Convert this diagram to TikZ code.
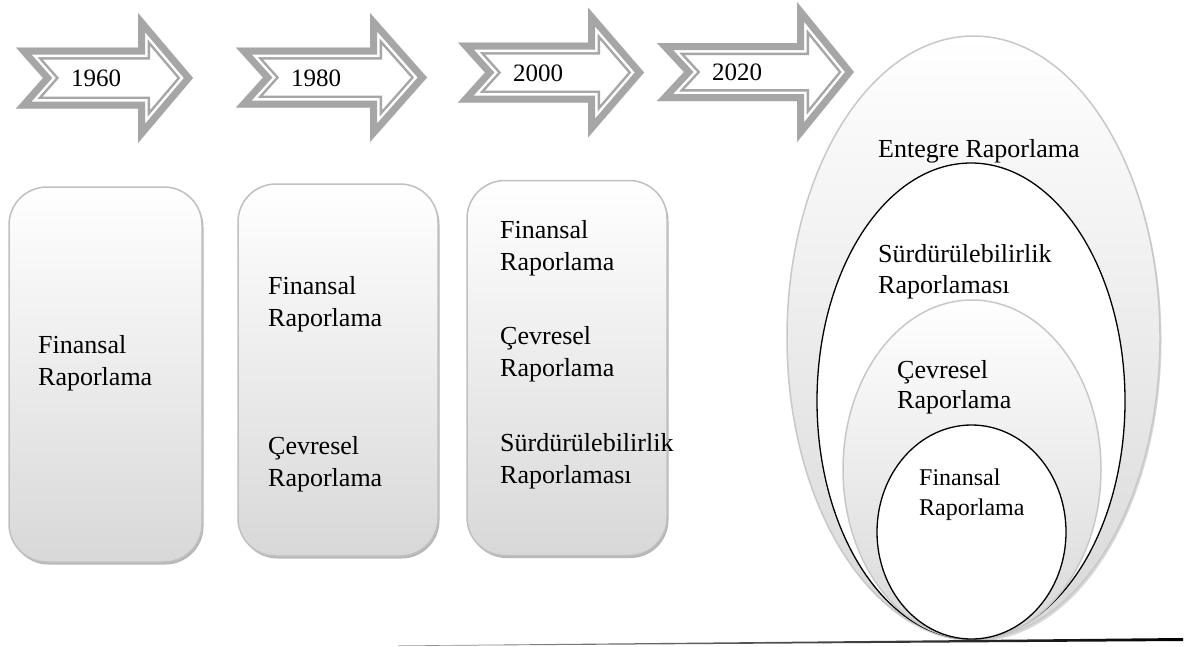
\documentclass[tikz,border=0pt]{standalone}
\usepackage{fontspec}
\setmainfont{Liberation Serif}
\usetikzlibrary{shapes.geometric,shadows}
\definecolor{arrgray}{RGB}{166,166,166}
\definecolor{boxedge}{RGB}{192,192,192}
\definecolor{boxbot}{RGB}{216,216,216}
\definecolor{ellgray}{RGB}{200,200,200}
\newcommand{\yeararrow}[8]{%
  \def\arrp{(#2,#5-#6) -- (#3,#5-#6) -- (#3,#5-#7) -- (#4,#5) -- (#3,#5+#7) -- (#3,#5+#6) -- (#2,#5+#6) -- (#2+27,#5) -- cycle}%
  \begin{scope}
    \clip \arrp;
    \fill[white] \arrp;
    \draw[arrgray, line width=24pt, line join=miter] \arrp;
    \draw[white, line width=19pt, line join=miter] \arrp;
    \draw[arrgray, line width=14pt, line join=miter] \arrp;
  \end{scope}
  \node[yeartext] (#1) at (#2+55,#5+8.5) {#8};
}
\begin{document}
\begin{tikzpicture}[x=1pt,y=-1pt,
  yeartext/.style={anchor=base west, inner sep=0pt, font=\fontsize{25}{30}\selectfont},
  txt/.style={anchor=base west, inner sep=0pt, font=\fontsize{26}{31}\selectfont},
  smalltxt/.style={anchor=base west, inner sep=0pt, font=\fontsize{24}{29}\selectfont},
  periodbox/.style={rectangle, rounded corners=38pt, draw=boxedge, line width=1.5pt,
    top color=white, bottom color=boxbot, inner sep=0pt,
    drop shadow={shadow xshift=1.5pt, shadow yshift=-2.5pt, fill=black!35, opacity=0.8}},
  grayell/.style={ellipse, inner sep=0pt, draw=ellgray, line width=1.5pt, top color=white, bottom color=boxbot},
  blackell/.style={ellipse, inner sep=0pt, draw=black, line width=1.3pt, fill=white}
]
\useasboundingbox (0,0) rectangle (1188,646);
\fill[white] (0,0) rectangle (1188,646);

% arrows
\yeararrow{y1960}{16}{138}{193}{78}{30.5}{65}{1960}
\yeararrow{y1980}{236}{370}{427}{77.5}{30}{64.5}{1980}
\yeararrow{y2000}{458}{588}{644}{72.5}{30}{65}{2000}
\yeararrow{y2020}{657}{797}{854}{72}{29}{70}{2020}

% period boxes
\node[periodbox, minimum width=193pt, minimum height=375pt] (box1) at (105.5,374.5) {};
\node[periodbox, minimum width=200pt, minimum height=372pt] (box2) at (338,370) {};
\node[periodbox, minimum width=200pt, minimum height=375pt] (box3) at (567,368) {};

\node[txt] (b1a) at (38,353) {Finansal};
\node[txt] (b1b) at (38,385) {Raporlama};

\node[txt] (b2a) at (268,294) {Finansal};
\node[txt] (b2b) at (268,326) {Raporlama};
\node[txt] (b2c) at (268,454) {Çevresel};
\node[txt] (b2d) at (268,486) {Raporlama};

\node[txt] (b3a) at (500,238) {Finansal};
\node[txt] (b3b) at (500,270) {Raporlama};
\node[txt] (b3c) at (500,344) {Çevresel};
\node[txt] (b3d) at (500,376) {Raporlama};
\node[txt] (b3e) at (500,451) {Sürdürülebilirlik};
\node[txt] (b3f) at (500,483) {Raporlaması};

% nested ellipses
\node[grayell, minimum width=373pt, minimum height=603pt,
  drop shadow={shadow xshift=1.5pt, shadow yshift=-2.5pt, fill=black!30}] (ent) at (973.5,337.5) {};
\node[blackell, minimum width=308pt, minimum height=476pt] (sur) at (971,401) {};
\node[grayell, minimum width=258pt, minimum height=339pt] (cev) at (972,469.5) {};
\node[blackell, minimum width=189pt, minimum height=214pt] (fin) at (971.5,532) {};

\node[txt] (e1) at (878,157) {Entegre Raporlama};
\node[txt] (e2) at (878,262) {Sürdürülebilirlik};
\node[txt] (e3) at (878,293) {Raporlaması};
\node[txt] (e4) at (897,378) {Çevresel};
\node[txt] (e5) at (897,408) {Raporlama};
\node[smalltxt] (e6) at (919,485) {Finansal};
\node[smalltxt] (e7) at (919,515) {Raporlama};

% base line
\coordinate (bl) at (398,645.5);
\coordinate (brt) at (1183,638);
\coordinate (brb) at (1183,641);
\shade[left color=black!40, right color=black] (bl) -- (brt) -- (brb) -- (398,646) -- cycle;
\end{tikzpicture}
\end{document}
